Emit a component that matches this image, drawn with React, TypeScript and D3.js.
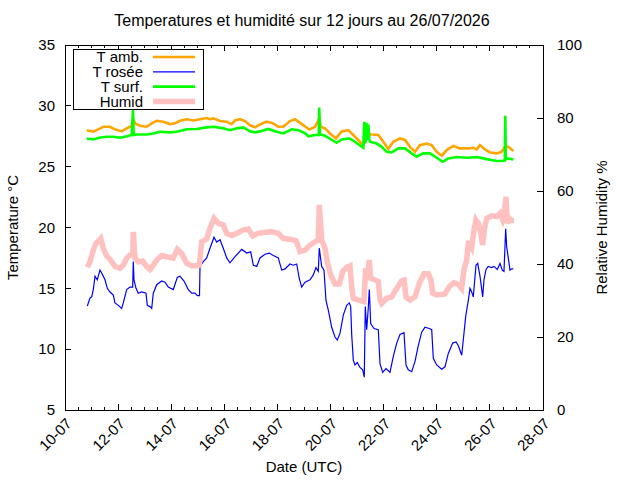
import { useRef, useEffect } from 'react';
import * as d3 from 'd3';

// [day of July (fractional), value]
type Pt = [number, number];

const xTickDays = [10, 12, 14, 16, 18, 20, 22, 24, 26, 28];
const tempTicks = [5, 10, 15, 20, 25, 30, 35];
const humidTicks = [0, 20, 40, 60, 80, 100];

const seriesNames = ['T amb.', 'T rosée', 'T surf.', 'Humid'];

const tAmb: Pt[] = [
  [10.817, 28.0], [11.066, 27.87], [11.254, 28.07], [11.442, 28.28], [11.695, 28.28], [11.883, 28.07],
  [12.135, 27.9], [12.323, 28.15], [12.512, 28.36], [12.572, 28.9], [12.636, 28.56], [12.824, 28.36],
  [13.077, 28.28], [13.265, 28.56], [13.453, 28.77], [13.702, 28.69], [13.954, 28.5], [14.142, 28.56],
  [14.33, 28.77], [14.583, 28.9], [14.831, 28.8], [15.084, 28.9], [15.336, 29.0], [15.46, 28.9],
  [15.584, 28.97], [15.837, 28.75], [16.089, 28.7], [16.277, 28.5], [16.402, 28.8], [16.59, 28.9],
  [16.778, 28.75], [16.966, 28.4], [17.155, 28.23], [17.343, 28.47], [17.595, 28.7], [17.844, 28.56],
  [18.032, 28.28], [18.22, 28.28], [18.473, 28.75], [18.661, 28.9], [18.849, 28.6], [19.038, 28.3],
  [19.2, 28.05], [19.414, 28.28], [19.576, 28.97], [19.629, 28.28], [19.791, 28.15], [19.979, 27.73],
  [20.205, 27.32], [20.42, 27.9], [20.668, 28.0], [20.856, 27.6], [21.108, 27.05], [21.232, 26.77],
  [21.361, 27.73], [21.549, 27.65], [21.798, 27.6], [21.986, 27.05], [22.174, 26.45], [22.363, 27.05],
  [22.615, 27.32], [22.803, 27.2], [22.991, 26.63], [23.18, 26.22], [23.368, 26.77], [23.62, 26.9],
  [23.809, 26.77], [23.997, 26.22], [24.185, 25.9], [24.373, 26.36], [24.622, 26.7], [24.874, 26.5],
  [25.187, 26.5], [25.375, 26.55], [25.503, 26.42], [25.627, 26.77], [25.815, 26.42], [26.004, 26.17],
  [26.256, 26.09], [26.444, 26.22], [26.569, 26.63], [26.693, 26.63], [26.881, 26.28],
];

const tDew: Pt[] = [
  [10.84, 13.55], [10.941, 14.2], [11.005, 14.3], [11.066, 14.9], [11.13, 16.0], [11.216, 15.7],
  [11.318, 16.5], [11.42, 16.1], [11.506, 15.7], [11.593, 15.0], [11.695, 14.7], [11.819, 14.45],
  [11.883, 13.8], [12.007, 13.6], [12.135, 13.35], [12.195, 13.8], [12.323, 14.9], [12.448, 15.1],
  [12.549, 15.1], [12.572, 17.2], [12.598, 15.7], [12.674, 15.0], [12.76, 14.6], [12.888, 14.7],
  [13.05, 14.6], [13.099, 13.6], [13.201, 13.5], [13.265, 13.35], [13.325, 14.6], [13.453, 15.3],
  [13.641, 15.6], [13.766, 15.5], [13.89, 15.1], [14.078, 14.9], [14.229, 15.9], [14.33, 16.0],
  [14.481, 15.6], [14.643, 14.9], [14.771, 14.6], [14.895, 14.6], [14.982, 14.4], [15.065, 14.4],
  [15.084, 16.8], [15.208, 17.2], [15.336, 17.5], [15.46, 18.3], [15.611, 19.2], [15.713, 18.8],
  [15.837, 19.0], [15.961, 18.3], [16.089, 17.5], [16.213, 17.1], [16.402, 17.6], [16.654, 18.2],
  [16.842, 17.9], [16.993, 18.0], [17.091, 16.9], [17.219, 16.8], [17.343, 17.5], [17.531, 17.8],
  [17.693, 17.9], [17.844, 17.7], [18.032, 17.5], [18.16, 16.5], [18.284, 16.6], [18.473, 17.0],
  [18.597, 16.9], [18.725, 17.0], [18.823, 15.8], [18.913, 15.1], [19.038, 15.5], [19.226, 15.7],
  [19.35, 16.1], [19.452, 16.7], [19.538, 16.4], [19.576, 18.3], [19.666, 16.8], [19.753, 16.5],
  [19.828, 14.0], [19.915, 13.2], [20.043, 11.8], [20.167, 11.0], [20.254, 10.75], [20.355, 11.3],
  [20.48, 12.8], [20.608, 13.6], [20.706, 13.8], [20.758, 13.5], [20.796, 11.2], [20.856, 9.1],
  [20.92, 8.7], [21.007, 8.9], [21.108, 8.5], [21.21, 8.3], [21.27, 7.7], [21.308, 13.5],
  [21.361, 11.6], [21.421, 13.4], [21.459, 14.9], [21.511, 12.1], [21.636, 11.7], [21.798, 11.6],
  [21.862, 8.8], [21.963, 8.1], [22.088, 8.4], [22.238, 8.1], [22.363, 9.4], [22.491, 10.5],
  [22.615, 11.2], [22.766, 11.35], [22.841, 8.7], [22.927, 8.3], [23.055, 8.15], [23.18, 9.0],
  [23.304, 10.3], [23.432, 11.4], [23.556, 11.8], [23.718, 11.7], [23.809, 11.6], [23.869, 9.25],
  [23.997, 8.7], [24.185, 8.35], [24.309, 8.55], [24.434, 9.65], [24.599, 10.5], [24.724, 10.6],
  [24.81, 10.3], [24.938, 9.5], [24.998, 10.75], [25.089, 12.7], [25.187, 14.0], [25.251, 15.0],
  [25.315, 14.7], [25.375, 14.3], [25.477, 16.9], [25.541, 17.05], [25.627, 16.0], [25.729, 14.3],
  [25.778, 15.7], [25.853, 16.55], [25.94, 16.8], [26.068, 16.7], [26.155, 16.8], [26.279, 16.55],
  [26.381, 17.05], [26.467, 16.5], [26.531, 16.4], [26.595, 19.9], [26.633, 18.4], [26.693, 17.5],
  [26.757, 16.5], [26.821, 16.6], [26.881, 16.6],
];

const tSurf: Pt[] = [
  [10.817, 27.32], [11.066, 27.24], [11.318, 27.4], [11.57, 27.46], [11.819, 27.46], [12.071, 27.38],
  [12.323, 27.5], [12.512, 27.6], [12.561, 29.65], [12.583, 27.6], [12.7, 27.65], [13.077, 27.65],
  [13.325, 27.73], [13.577, 27.87], [13.954, 27.82], [14.206, 27.87], [14.583, 28.07], [14.959, 28.1],
  [15.336, 28.23], [15.584, 28.28], [15.961, 28.15], [16.213, 28.0], [16.466, 28.15], [16.714, 28.23],
  [16.966, 27.9], [17.155, 27.82], [17.343, 27.9], [17.656, 28.1], [17.972, 27.87], [18.22, 27.73],
  [18.537, 28.07], [18.785, 28.0], [19.038, 27.75], [19.163, 27.5], [19.414, 27.6], [19.557, 27.6],
  [19.572, 29.87], [19.603, 27.65], [19.791, 27.54], [20.103, 27.13], [20.229, 26.96], [20.42, 27.24],
  [20.706, 27.32], [20.92, 27.05], [21.232, 26.55], [21.27, 28.69], [21.315, 26.9], [21.346, 28.6],
  [21.391, 27.2], [21.421, 28.47], [21.459, 27.3], [21.485, 27.05], [21.737, 26.9], [21.926, 26.63],
  [22.114, 26.22], [22.302, 26.17], [22.554, 26.5], [22.803, 26.5], [23.055, 26.09], [23.243, 25.82],
  [23.492, 26.09], [23.744, 26.09], [23.997, 25.73], [24.223, 25.4], [24.434, 25.68], [24.75, 25.79],
  [25.126, 25.73], [25.503, 25.79], [25.88, 25.62], [26.256, 25.46], [26.505, 25.48], [26.562, 25.5],
  [26.58, 29.18], [26.599, 25.6], [26.655, 25.68], [26.881, 25.6],
];

const humid: Pt[] = [
  [10.84, 39.1], [10.941, 40.6], [11.066, 43.8], [11.167, 45.7], [11.292, 46.6], [11.344, 47.0],
  [11.442, 44.3], [11.57, 42.2], [11.695, 41.3], [11.883, 39.3], [12.071, 38.8], [12.195, 39.7],
  [12.323, 41.6], [12.448, 42.5], [12.549, 42.5], [12.572, 48.8], [12.636, 41.6], [12.76, 40.6],
  [12.926, 40.8], [13.077, 39.3], [13.201, 38.5], [13.325, 39.7], [13.453, 41.1], [13.641, 42.3],
  [13.83, 42.0], [14.078, 41.6], [14.229, 44.0], [14.394, 42.9], [14.583, 40.2], [14.771, 39.5],
  [14.959, 39.5], [15.057, 39.7], [15.148, 46.1], [15.336, 46.8], [15.434, 49.3], [15.611, 52.5],
  [15.773, 51.2], [15.961, 50.7], [16.089, 48.4], [16.277, 47.8], [16.466, 48.4], [16.692, 49.3],
  [16.902, 49.6], [17.068, 47.7], [17.279, 48.4], [17.531, 48.7], [17.784, 48.8], [18.032, 48.4],
  [18.22, 47.0], [18.473, 46.8], [18.699, 46.4], [18.849, 43.4], [19.038, 43.8], [19.226, 45.2],
  [19.414, 46.1], [19.538, 46.6], [19.576, 56.2], [19.666, 46.6], [19.791, 44.3], [19.877, 40.6],
  [20.005, 37.0], [20.167, 34.5], [20.329, 34.5], [20.457, 37.9], [20.608, 39.1], [20.732, 39.5],
  [20.796, 33.8], [20.856, 30.6], [21.044, 30.1], [21.259, 29.7], [21.323, 38.8], [21.361, 35.6],
  [21.459, 41.1], [21.511, 36.1], [21.673, 35.6], [21.798, 35.2], [21.862, 30.1], [21.926, 29.2],
  [22.114, 30.6], [22.302, 31.0], [22.491, 33.3], [22.679, 35.4], [22.766, 35.6], [22.841, 31.0],
  [22.991, 30.1], [23.18, 31.0], [23.342, 34.7], [23.519, 37.3], [23.681, 37.3], [23.782, 35.6],
  [23.846, 32.0], [23.997, 31.5], [24.309, 31.8], [24.471, 33.8], [24.648, 34.9], [24.81, 34.4],
  [24.938, 33.3], [25.025, 38.4], [25.126, 41.1], [25.187, 45.7], [25.251, 45.7], [25.315, 44.7],
  [25.402, 49.3], [25.477, 52.1], [25.564, 51.2], [25.654, 48.4], [25.729, 45.2], [25.789, 49.3],
  [25.88, 52.5], [26.068, 53.2], [26.256, 53.0], [26.381, 53.9], [26.482, 52.1], [26.542, 53.4],
  [26.606, 58.4], [26.655, 51.2], [26.731, 52.5], [26.821, 51.9], [26.908, 51.9],
];

const FONT = '"Liberation Sans", Arial, Helvetica, sans-serif';

export default function App() {
  const svgRef = useRef<SVGSVGElement>(null);

  const width = 640;
  const height = 480;

  useEffect(() => {
    if (!svgRef.current) return;
    const svg = d3.select(svgRef.current);
    svg.selectAll('*').remove();

    const margin = { top: 45, right: 97, bottom: 70, left: 65 };
    const innerWidth = width - margin.left - margin.right;
    const innerHeight = height - margin.top - margin.bottom;

    const g = svg.append('g').attr('transform', `translate(${margin.left},${margin.top})`);

    // Scales
    const xScale = d3.scaleLinear().domain([10, 28]).range([0, innerWidth]);
    const yScale = d3.scaleLinear().domain([5, 35]).range([innerHeight, 0]);
    const y2Scale = d3.scaleLinear().domain([0, 100]).range([innerHeight, 0]);

    const minorDays = d3.range(10, 28.001, 0.5).filter(d => !xTickDays.includes(d));

    // Series
    const tLine = d3.line<Pt>().x(d => xScale(d[0])).y(d => yScale(d[1]));
    const hLine = d3.line<Pt>().x(d => xScale(d[0])).y(d => y2Scale(d[1]));

    const series = [
      { data: tAmb, line: tLine, color: '#ffa500', width: 2.6 },
      { data: tDew, line: tLine, color: '#0000ff', width: 1.2 },
      { data: tSurf, line: tLine, color: '#00ff00', width: 2.6 },
      { data: humid, line: hLine, color: '#ffc0c0', width: 5.5 },
    ];

    series.forEach(s => {
      g.append('path')
        .datum(s.data)
        .attr('fill', 'none')
        .attr('stroke', s.color)
        .attr('stroke-width', s.width)
        .attr('stroke-linejoin', 'miter')
        .attr('d', s.line);
    });

    // Ticks
    const tick = (x1: number, y1: number, x2: number, y2: number) =>
      g.append('line')
        .attr('x1', x1).attr('y1', y1).attr('x2', x2).attr('y2', y2)
        .attr('stroke', '#000').attr('stroke-width', 1)
        .attr('shape-rendering', 'crispEdges');

    xTickDays.forEach(d => {
      tick(xScale(d), innerHeight, xScale(d), innerHeight - 6);
      tick(xScale(d), 0, xScale(d), 6);
    });
    minorDays.forEach(d => {
      tick(xScale(d), innerHeight, xScale(d), innerHeight - 3);
      tick(xScale(d), 0, xScale(d), 3);
    });
    tempTicks.forEach(v => tick(0, yScale(v), 6, yScale(v)));
    humidTicks.forEach(v => tick(innerWidth, y2Scale(v), innerWidth - 6, y2Scale(v)));

    // Border
    g.append('rect')
      .attr('x', 0).attr('y', 0)
      .attr('width', innerWidth).attr('height', innerHeight)
      .attr('fill', 'none').attr('stroke', '#000').attr('stroke-width', 1)
      .attr('shape-rendering', 'crispEdges');

    // Tick labels
    const labels = svg.append('g')
      .attr('font-family', FONT)
      .attr('font-size', 15)
      .attr('fill', '#000');

    tempTicks.forEach(v => {
      labels.append('text')
        .attr('x', margin.left - 10)
        .attr('y', margin.top + yScale(v))
        .attr('dy', '0.35em')
        .attr('text-anchor', 'end')
        .text(v);
    });
    humidTicks.forEach(v => {
      labels.append('text')
        .attr('x', margin.left + innerWidth + 14)
        .attr('y', margin.top + y2Scale(v))
        .attr('dy', '0.35em')
        .attr('text-anchor', 'start')
        .text(v);
    });
    xTickDays.forEach(d => {
      const x = margin.left + xScale(d);
      labels.append('text')
        .attr('transform', `translate(${x + 4},${margin.top + innerHeight + 11}) rotate(-45)`)
        .attr('dy', '0.35em')
        .attr('text-anchor', 'end')
        .text(`${d}-07`);
    });

    // Axis titles
    labels.append('text')
      .attr('transform', `translate(18,${margin.top + innerHeight / 2}) rotate(-90)`)
      .attr('text-anchor', 'middle')
      .text('Temperature °C');
    labels.append('text')
      .attr('transform', `translate(607,${margin.top + innerHeight / 2}) rotate(-90)`)
      .attr('text-anchor', 'middle')
      .text('Relative Humidity %');
    labels.append('text')
      .attr('x', margin.left + innerWidth / 2)
      .attr('y', 472)
      .attr('text-anchor', 'middle')
      .text('Date (UTC)');
    labels.append('text')
      .attr('x', 302)
      .attr('y', 26)
      .attr('font-size', 16)
      .attr('text-anchor', 'middle')
      .text('Temperatures et humidité sur 12 jours au 26/07/2026');

    // Legend
    const legend = svg.append('g').attr('font-family', FONT).attr('font-size', 15);
    legend.append('rect')
      .attr('x', 73.5).attr('y', 49.5).attr('width', 130).attr('height', 60)
      .attr('fill', '#fff').attr('stroke', '#000').attr('stroke-width', 1);
    series.forEach((s, i) => {
      const cy = 57 + i * 14.8;
      legend.append('text')
        .attr('x', 143).attr('y', cy).attr('dy', '0.35em')
        .attr('text-anchor', 'end')
        .text(seriesNames[i]);
      legend.append('line')
        .attr('x1', 153).attr('x2', 195).attr('y1', cy).attr('y2', cy)
        .attr('stroke', s.color).attr('stroke-width', s.width);
    });
  }, []);

  return (
    <svg
      ref={svgRef}
      width={width}
      height={height}
      style={{ position: 'absolute', left: 0, top: 0, background: '#fff' }}
    />
  );
}
